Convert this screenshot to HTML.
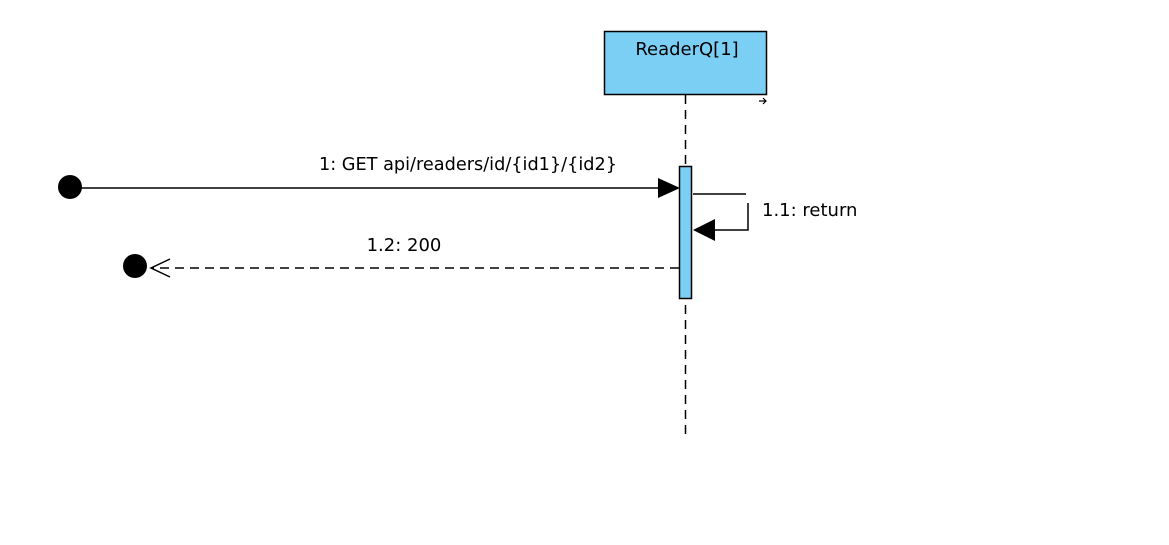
<!DOCTYPE html>
<html><head><meta charset="utf-8"><style>
html,body{margin:0;padding:0;background:#fff;}
svg{display:block;font-family:"DejaVu Sans","Liberation Sans",sans-serif;}
</style></head><body>
<svg width="1169" height="545" viewBox="0 0 1169 545" xmlns="http://www.w3.org/2000/svg">
<rect x="604.5" y="31.5" width="162" height="63" fill="#7ccff4" stroke="#000" stroke-width="1.5"/>
<text x="687" y="55" font-size="18" text-anchor="middle">ReaderQ[1]</text>
<path d="M759 101 h7 M763 98 l3 3 l-3 3" stroke="#000" stroke-width="1.2" fill="none"/>
<line x1="685.5" y1="95" x2="685.5" y2="437" stroke="#000" stroke-width="1.5" stroke-dasharray="9,6"/>
<rect x="679.5" y="166.5" width="12" height="132" fill="#7ccff4" stroke="#000" stroke-width="1.5"/>
<circle cx="70" cy="187" r="12" fill="#000"/>
<line x1="70" y1="188" x2="662" y2="188" stroke="#000" stroke-width="1.5"/>
<polygon points="658,178 680,188 658,198" fill="#000"/>
<text x="468" y="170" font-size="17.7" text-anchor="middle">1: GET api/readers/id/{id1}/{id2}</text>
<polyline points="693,194 746,194" stroke="#000" stroke-width="1.5" fill="none"/>
<polyline points="748,203 748,230 712,230" stroke="#000" stroke-width="1.5" fill="none"/>
<polygon points="715,219 693,230 715,241" fill="#000"/>
<text x="762" y="216" font-size="18">1.1: return</text>
<line x1="679" y1="268" x2="152" y2="268" stroke="#000" stroke-width="1.5" stroke-dasharray="9,6"/>
<polyline points="170,259 151,268 170,277" stroke="#000" stroke-width="1.5" fill="none"/>
<circle cx="135" cy="266" r="12" fill="#000"/>
<text x="404" y="251" font-size="18" text-anchor="middle">1.2: 200</text>
</svg>
</body></html>
